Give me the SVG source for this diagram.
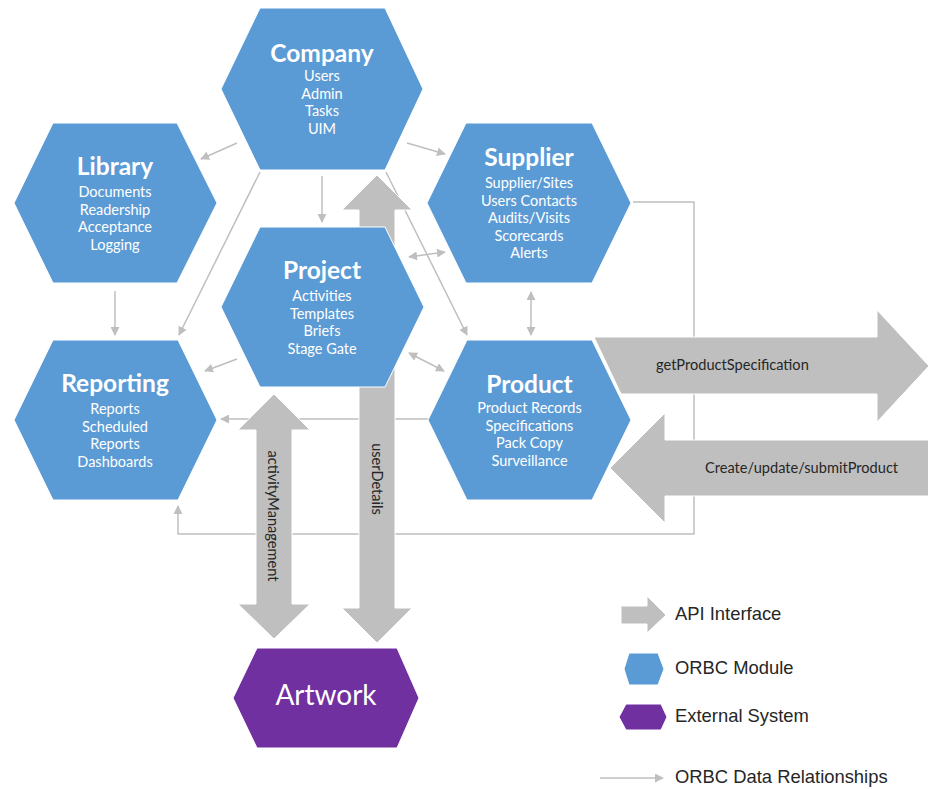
<svg xmlns="http://www.w3.org/2000/svg" width="928" height="789" viewBox="0 0 928 789">
<style>
.hex{fill:#5B9BD5;stroke:#ffffff;stroke-width:1}
.ext{fill:#7030A0;stroke:#ffffff;stroke-width:1}
.api{fill:#BFBFBF;stroke:#ffffff;stroke-width:1}
.rel{fill:none;stroke:#BFBFBF;stroke-width:1.5}
.t{font-family:Lato,"Open Sans",sans-serif;font-weight:bold;font-size:24.5px;fill:#ffffff;text-anchor:middle}
.s{font-family:Lato,"Open Sans",sans-serif;font-size:14.5px;fill:#ffffff;text-anchor:middle}
.al{font-family:Lato,"Open Sans",sans-serif;font-size:14.6px;fill:#262626}
.lg{font-family:"Liberation Sans",Arial,sans-serif;font-size:18.4px;fill:#262626}
</style>
<defs>
<marker id="ah" viewBox="0 0 10 10" refX="9" refY="5" markerWidth="6" markerHeight="6" orient="auto-start-reverse" markerUnits="strokeWidth">
<path d="M0,0 L10,5 L0,10 z" fill="#BFBFBF"/>
</marker>
</defs>

<g id="connectors">
<line class="rel" x1="237" y1="143" x2="201" y2="159" marker-end="url(#ah)"/>
<line class="rel" x1="407" y1="143" x2="445" y2="154" marker-end="url(#ah)"/>
<line class="rel" x1="322" y1="176" x2="322" y2="222" marker-end="url(#ah)"/>
<line class="rel" x1="115" y1="291" x2="115" y2="335" marker-end="url(#ah)"/>
<line class="rel" x1="260" y1="172" x2="179" y2="335" marker-end="url(#ah)"/>
<line class="rel" x1="237" y1="359" x2="205" y2="371" marker-end="url(#ah)"/>
<line class="rel" x1="428" y1="419" x2="221" y2="419" marker-end="url(#ah)"/>
<polyline class="rel" points="633,202 694,202 694,534 178,534 178,506" marker-end="url(#ah)"/>
<line class="rel" x1="386" y1="172" x2="467" y2="335" marker-end="url(#ah)"/>
<line class="rel" x1="409" y1="257" x2="445" y2="252" marker-start="url(#ah)" marker-end="url(#ah)"/>
<line class="rel" x1="409" y1="353" x2="444" y2="371" marker-start="url(#ah)" marker-end="url(#ah)"/>
<line class="rel" x1="531" y1="292" x2="531" y2="335" marker-start="url(#ah)" marker-end="url(#ah)"/>
</g>

<g id="api-getProductSpecification">
<polygon class="api" points="594,337 877,337 877,310 929,366 877,422 877,394 621,394"/>
<text class="al" x="656" y="370">getProductSpecification</text>
</g>
<g id="api-createProduct">
<polygon class="api" points="610,468 665,413 665,440 931,440 931,496 665,496 665,523"/>
<text class="al" x="705" y="473" font-size="15.5px">Create/update/submitProduct</text>
</g>
<g id="api-activityManagement">
<polygon class="api" points="274,394 310,430 292,430 292,604 310,604 274,639 238,604 256,604 256,430 238,430"/>
<text class="al" transform="translate(268,516) rotate(90)" text-anchor="middle">activityManagement</text>
</g>
<g id="api-userDetails">
<polygon class="api" points="377,175 412,210 395,210 395,608 412,608 377,643 342,608 359,608 359,210 342,210"/>
<text class="al" transform="translate(372,479) rotate(90)" text-anchor="middle">userDetails</text>
</g>

<g id="company">
<polygon class="hex" points="260,8 385,8 423,89 385,170 260,170 221,89"/>
<text class="t" x="322" y="62">Company</text>
<text class="s" x="322" y="81">Users</text>
<text class="s" x="322" y="98.5">Admin</text>
<text class="s" x="322" y="116">Tasks</text>
<text class="s" x="322" y="133.5">UIM</text>
</g>
<g id="library">
<polygon class="hex" points="53,123 177,123 217,203 177,283 53,283 14,203"/>
<text class="t" x="115" y="175">Library</text>
<text class="s" x="115" y="197">Documents</text>
<text class="s" x="115" y="214.5">Readership</text>
<text class="s" x="115" y="232">Acceptance</text>
<text class="s" x="115" y="249.5">Logging</text>
</g>
<g id="supplier">
<polygon class="hex" points="466,123 592,123 631,203 592,283 466,283 427,203"/>
<text class="t" x="529" y="166">Supplier</text>
<text class="s" x="529" y="188">Supplier/Sites</text>
<text class="s" x="529" y="205.5">Users Contacts</text>
<text class="s" x="529" y="223">Audits/Visits</text>
<text class="s" x="529" y="240.5">Scorecards</text>
<text class="s" x="529" y="258">Alerts</text>
</g>
<g id="project">
<polygon class="hex" points="260,227 385,227 424,307 385,387 260,387 221,307"/>
<text class="t" x="322" y="279">Project</text>
<text class="s" x="322" y="301">Activities</text>
<text class="s" x="322" y="318.5">Templates</text>
<text class="s" x="322" y="336">Briefs</text>
<text class="s" x="322" y="353.5">Stage Gate</text>
</g>
<g id="reporting">
<polygon class="hex" points="53,340 178,340 217,420 178,500 53,500 14,420"/>
<text class="t" x="115" y="392">Reporting</text>
<text class="s" x="115" y="414">Reports</text>
<text class="s" x="115" y="431.5">Scheduled</text>
<text class="s" x="115" y="449">Reports</text>
<text class="s" x="115" y="466.5">Dashboards</text>
</g>
<g id="product">
<polygon class="hex" points="467,340 592,340 631,420 592,500 467,500 428,420"/>
<text class="t" x="529.5" y="393">Product</text>
<text class="s" x="529.5" y="413">Product Records</text>
<text class="s" x="529.5" y="430.5">Specifications</text>
<text class="s" x="529.5" y="448">Pack Copy</text>
<text class="s" x="529.5" y="465.5">Surveillance</text>
</g>
<g id="artwork">
<polygon class="ext" points="257,648 397,648 419,698 397,748 257,748 233,698"/>
<text x="326" y="705" font-family="Lato,'Open Sans',sans-serif" font-size="28" fill="#ffffff" text-anchor="middle">Artwork</text>
</g>

<g id="legend">
<polygon class="api" points="621,606 647,606 647,596 666,615 647,633 647,624 621,624"/>
<text class="lg" x="675" y="620">API Interface</text>
<polygon class="hex" points="629,653 658,653 664,669 658,685 629,685 624,669"/>
<text class="lg" x="675" y="674">ORBC Module</text>
<polygon class="ext" points="626,704 661,704 667,717 661,730 626,730 619,717"/>
<text class="lg" x="675" y="722">External System</text>
<line class="rel" x1="600" y1="778" x2="663" y2="778" marker-end="url(#ah)"/>
<text class="lg" x="675" y="783">ORBC Data Relationships</text>
</g>
</svg>
